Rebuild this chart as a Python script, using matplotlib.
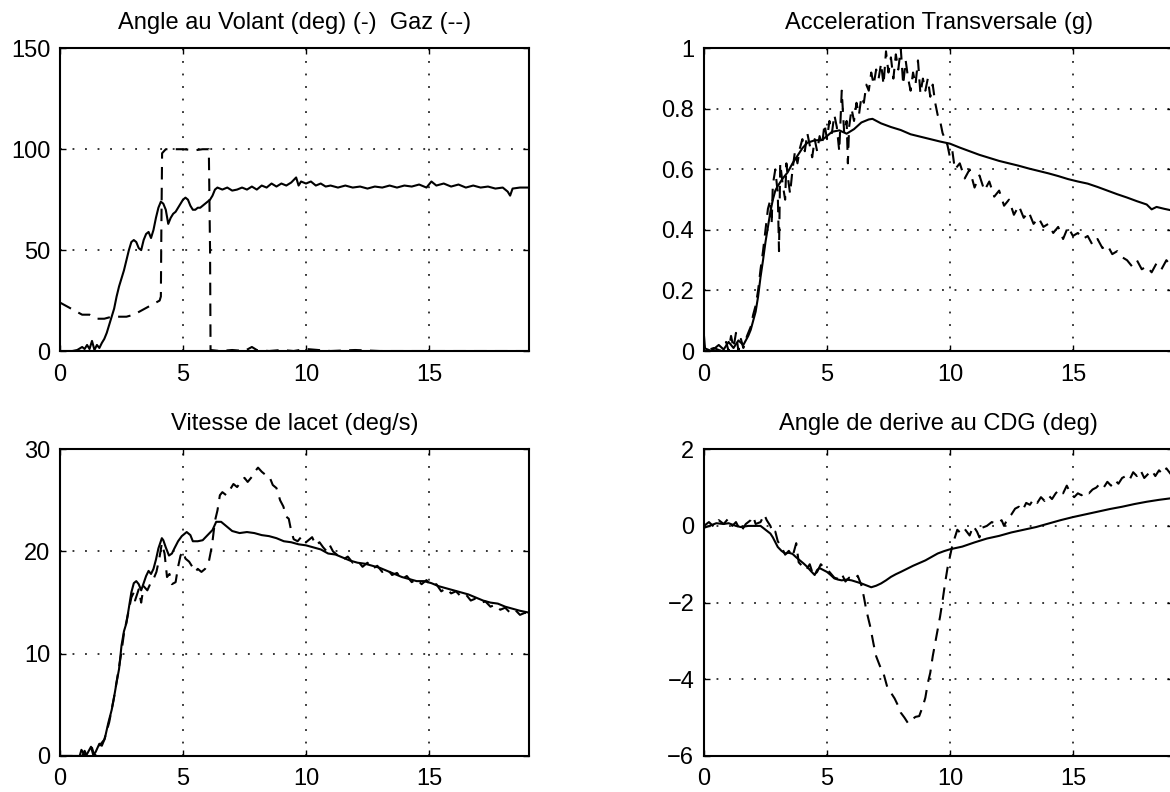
import matplotlib
matplotlib.use('Agg')
import matplotlib.pyplot as plt
import numpy as np

plt.rcParams['font.family'] = ['Liberation Sans', 'DejaVu Sans']

# --- Angle au volant (solid) / Gaz (dashed)
t_vol = [0, 0.5, 0.7, 0.9, 1.0, 1.1, 1.2, 1.3, 1.4, 1.5, 1.6, 1.7, 1.8, 1.9, 2.0, 2.1, 2.2, 2.3, 2.4, 2.5,
         2.6, 2.7, 2.8, 2.9, 3.0, 3.1, 3.2, 3.3, 3.4, 3.5, 3.6, 3.7, 3.8, 3.9, 4.0, 4.1, 4.2, 4.3, 4.4, 4.5,
         4.6, 4.7, 4.8, 4.9, 5.0, 5.1, 5.2, 5.3, 5.4, 5.5, 5.6, 5.7, 5.8, 5.9, 6.0, 6.1, 6.2, 6.3, 6.4, 6.6,
         6.8, 7.0, 7.2, 7.4, 7.6, 7.8, 8.0, 8.2, 8.4, 8.6, 8.8, 9.0, 9.2, 9.4, 9.6, 9.7, 9.8, 10.0, 10.2, 10.4,
         10.6, 10.8, 11.0, 11.3, 11.6, 11.9, 12.2, 12.5, 12.8, 13.1, 13.4, 13.7, 14.0, 14.3, 14.6, 14.9, 15.1,
         15.3, 15.6, 15.9, 16.2, 16.5, 16.8, 17.1, 17.4, 17.7, 18.0, 18.2, 18.3, 18.4, 18.7, 19.1]
volant = [0, 0, 0.5, 2, 1, 3, 1, 5, 0.5, 3, 1.5, 4, 6, 9, 13, 17, 21, 27, 32, 36,
          40, 45, 50, 54, 55, 54, 51, 50, 55, 58, 59, 56, 60, 66, 71, 74, 73, 70, 63, 66,
          68, 69, 71, 73, 75, 76, 75, 72, 70, 70, 71, 71, 72, 73, 74, 75, 77, 80, 81, 80,
          81, 79.5, 80, 81, 80, 81.5, 80, 82, 81, 83, 81.5, 83, 82, 83.5, 86, 82, 84, 83, 84, 82,
          83, 81.5, 82, 81, 82, 81, 81.5, 80.5, 81.5, 81, 82, 81, 82, 81.5, 82.5, 81, 84,
          82, 83, 81.5, 82.5, 81, 82, 81, 81.5, 80.5, 81, 79, 77, 80.5, 81, 81]
t_gaz = [0, 0.3, 0.6, 0.9, 1.2, 1.5, 1.8, 2.1, 2.4, 2.7, 3.0, 3.3, 3.6, 3.9, 4.05, 4.1, 4.12, 4.15, 4.3,
         4.6, 5.0, 5.5, 5.8, 6.05, 6.1, 6.12, 6.5, 7.0, 7.5, 7.8, 8.0, 8.5, 9.0, 9.5, 10, 11, 12, 13,
         14, 15, 16, 17, 18, 19.1]
gaz = [24, 22, 20, 18, 18, 16, 16, 17, 17, 17, 18, 20, 22, 24, 25, 27, 60, 98, 100,
       100, 100, 99.5, 100, 100, 50, 0.5, 0, 0.5, 0, 2, 0.5, 0, 0.5, 0, 1, 0, 0.5, 0,
       0, 0, 0, 0, 0, 0]

# --- Acceleration transversale
t_acc = [0, 0.3, 0.6, 0.8, 1.0, 1.2, 1.4, 1.6, 1.8, 1.9, 2.0, 2.1, 2.2, 2.3, 2.4, 2.5, 2.6, 2.7, 2.8, 2.9,
         3.0, 3.2, 3.4, 3.6, 3.8, 4.0, 4.2, 4.5, 4.8, 5.0, 5.2, 5.5, 5.8, 6.1, 6.4, 6.7, 6.85, 7.2, 7.6, 8.0,
         8.4, 8.8, 9.2, 9.6, 10.0, 10.4, 10.8, 11.2, 11.6, 12.0, 12.4, 12.8, 13.2, 13.6, 14.0, 14.4, 14.8,
         15.2, 15.6, 16.0, 16.4, 16.8, 17.2, 17.6, 18.0, 18.2, 18.4, 18.7, 19.1]
acc_model = [0.01, 0, 0.02, 0.005, 0.03, 0.01, 0.035, 0.02, 0.05, 0.07, 0.1, 0.13, 0.18, 0.245, 0.3, 0.36,
             0.41, 0.46, 0.5, 0.53, 0.545, 0.57, 0.59, 0.62, 0.645, 0.67, 0.688, 0.696, 0.697, 0.71, 0.724,
             0.729, 0.718, 0.733, 0.755, 0.765, 0.767, 0.752, 0.74, 0.73, 0.716, 0.708, 0.7, 0.692, 0.685,
             0.672, 0.66, 0.648, 0.638, 0.628, 0.62, 0.612, 0.603, 0.595, 0.587, 0.578, 0.568, 0.56, 0.553,
             0.542, 0.53, 0.518, 0.507, 0.495, 0.484, 0.468, 0.476, 0.47, 0.463]
t_acc_m = [0, 0.05, 0.4, 0.7, 0.9, 1.0, 1.1, 1.2, 1.3, 1.4, 1.5, 1.6, 1.75, 1.9, 2.0, 2.1, 2.2, 2.3, 2.4,
           2.5, 2.6, 2.7, 2.75, 2.8, 2.9, 3.0, 3.05, 3.1, 3.2, 3.3, 3.35, 3.4, 3.5, 3.6, 3.7, 3.8, 3.9, 4.0,
           4.1, 4.2, 4.3, 4.4, 4.5, 4.6, 4.7, 4.8, 4.9, 5.0, 5.1, 5.2, 5.3, 5.4, 5.5, 5.6, 5.7, 5.8, 5.85,
           5.9, 6.0, 6.1, 6.2, 6.3, 6.4, 6.5, 6.6, 6.7, 6.8, 6.9, 7.0, 7.1, 7.2, 7.3, 7.4, 7.5, 7.6, 7.7,
           7.8, 7.9, 8.0, 8.1, 8.2, 8.3, 8.4, 8.5, 8.6, 8.7, 8.8, 8.9, 9.0, 9.1, 9.2, 9.3, 9.4, 9.5, 9.6,
           9.7, 9.8, 9.9, 10.0, 10.1, 10.2, 10.4, 10.6, 10.8, 11.0, 11.2, 11.4, 11.6, 11.8, 12.0, 12.2,
           12.4, 12.6, 12.8, 13.0, 13.2, 13.4, 13.6, 13.8, 14.0, 14.2, 14.4, 14.6, 14.8, 15.0, 15.2, 15.4,
           15.6, 15.8, 16.0, 16.2, 16.4, 16.6, 16.8, 17.0, 17.2, 17.4, 17.6, 17.8, 18.0, 18.2, 18.4, 18.6,
           18.8, 19.1]
acc_mes = [0.05, 0.0, 0.01, 0.0, 0.03, 0.0, 0.05, 0.01, 0.06, 0.0, 0.04, 0.01, 0.05, 0.08, 0.12, 0.15, 0.2,
           0.27, 0.33, 0.4, 0.47, 0.5, 0.42, 0.55, 0.6, 0.52, 0.33, 0.62, 0.55, 0.5, 0.62, 0.58, 0.52, 0.6,
           0.66, 0.62, 0.67, 0.7, 0.66, 0.72, 0.68, 0.64, 0.7, 0.66, 0.71, 0.68, 0.75, 0.7, 0.76, 0.72, 0.78,
           0.74, 0.66, 0.86, 0.72, 0.76, 0.62, 0.74, 0.8, 0.76, 0.82, 0.78, 0.84, 0.82, 0.88, 0.86, 0.92,
           0.88, 0.93, 0.9, 0.95, 0.88, 0.99, 0.92, 0.97, 0.9, 0.98, 0.93, 1.0, 0.88, 0.96, 0.9, 0.86, 0.92,
           0.88, 0.96, 0.85, 0.9, 0.86, 0.9, 0.84, 0.88, 0.82, 0.78, 0.76, 0.72, 0.7, 0.68, 0.64, 0.66, 0.6,
           0.62, 0.57, 0.6, 0.54, 0.58, 0.53, 0.56, 0.51, 0.53, 0.48, 0.5, 0.45, 0.48, 0.44, 0.46, 0.42,
           0.44, 0.41, 0.42, 0.39, 0.41, 0.37, 0.41, 0.38, 0.39, 0.37, 0.38, 0.35, 0.37, 0.34, 0.35, 0.32,
           0.33, 0.31, 0.3, 0.28, 0.3, 0.27, 0.28, 0.26, 0.29, 0.27, 0.3, 0.27]

# --- Vitesse de lacet
t_lac = [0, 0.8, 0.87, 1.0, 1.1, 1.26, 1.35, 1.45, 1.6, 1.7, 1.82, 1.96, 2.1, 2.18, 2.3, 2.4, 2.5, 2.6, 2.7,
         2.8, 2.9, 3.0, 3.1, 3.2, 3.3, 3.4, 3.5, 3.6, 3.7, 3.8, 3.9, 4.0, 4.14, 4.2, 4.3, 4.43, 4.55, 4.65,
         4.8, 4.95, 5.15, 5.3, 5.4, 5.6, 5.8, 6.0, 6.2, 6.35, 6.55, 6.8, 7.0, 7.3, 7.6, 7.9, 8.2, 8.5, 8.8,
         9.1, 9.4, 9.7, 10.0, 10.3, 10.6, 10.9, 11.2, 11.5, 11.8, 12.1, 12.4, 12.7, 13.0, 13.3, 13.6, 13.9,
         14.2, 14.5, 14.8, 15.1, 15.4, 15.7, 16.0, 16.3, 16.6, 16.9, 17.2, 17.5, 17.8, 18.1, 18.4, 18.7, 19.1]
lacet_model = [0, 0, 0.6, 0.1, 0.2, 0.9, 0.1, 0.4, 1.2, 1.0, 1.7, 3.2, 4.5, 5.5, 7.2, 8.5, 10.8, 12.2, 13,
               14.5, 16, 16.9, 17.1, 16.8, 16.2, 16.9, 17.6, 18.1, 17.8, 18.3, 19.2, 20.3, 21.3, 21.1, 20.4,
               19.6, 19.8, 20.3, 21, 21.5, 21.9, 21.6, 21.0, 21.0, 21.1, 21.6, 22.1, 22.9, 22.9, 22.4, 22.0,
               21.8, 21.9, 21.8, 21.6, 21.5, 21.3, 21.0, 20.9, 20.7, 20.6, 20.4, 20.2, 19.8, 19.7, 19.4, 19.1,
               18.9, 18.8, 18.6, 18.4, 18.1, 17.8, 17.5, 17.3, 17.1, 17.1, 16.9, 16.6, 16.4, 16.2, 16.0, 15.8,
               15.5, 15.2, 15.0, 14.9, 14.6, 14.4, 14.2, 14.0]
t_lac_m = [0, 0.9, 1.0, 1.1, 1.3, 1.4, 1.6, 1.8, 2.0, 2.2, 2.4, 2.5, 2.6, 2.8, 2.9, 3.0, 3.05, 3.2, 3.3,
           3.4, 3.55, 3.7, 3.8, 3.92, 4.05, 4.14, 4.25, 4.35, 4.45, 4.55, 4.7, 4.8, 4.9, 5.0, 5.1, 5.25,
           5.38, 5.5, 5.6, 5.75, 5.9, 6.05, 6.18, 6.3, 6.4, 6.5, 6.6, 6.76, 6.9, 7.05, 7.2, 7.35, 7.5, 7.63,
           7.8, 7.92, 8.05, 8.2, 8.35, 8.5, 8.65, 8.8, 8.95, 9.08, 9.2, 9.3, 9.4, 9.5, 9.66, 9.8, 9.95, 10.1,
           10.25, 10.4, 10.55, 10.7, 10.85, 10.97, 11.1, 11.3, 11.5, 11.7, 11.9, 12.1, 12.3, 12.5, 12.7,
           12.9, 13.1, 13.3, 13.5, 13.7, 13.9, 14.1, 14.3, 14.5, 14.7, 14.9, 15.1, 15.3, 15.5, 15.7, 15.9,
           16.1, 16.3, 16.5, 16.7, 16.9, 17.1, 17.3, 17.5, 17.7, 17.9, 18.1, 18.3, 18.5, 18.7, 18.9, 19.1]
lacet_mes = [0, 0, 0.5, 0, 0.8, 0, 1.0, 1.6, 3.3, 5.8, 8.7, 10.2, 12.0, 14.3, 15.5, 16.0, 15.2, 16.3, 15.0,
             16.6, 16.2, 17.0, 17.3, 18.0, 19.5, 20.8, 19.8, 17.5, 17.8, 16.8, 17.0, 18.5, 19.6, 20.0, 19.3,
             19.0, 18.5, 18.0, 18.3, 18.0, 18.3, 19.0, 20.6, 23.0, 24.0, 25.5, 25.8, 25.5, 26.0, 26.6, 26.3,
             26.8, 27.2, 26.8, 27.3, 27.8, 28.2, 27.8, 27.5, 27.4, 26.5, 26.2, 25.0, 24.4, 23.4, 23.2, 22.0,
             21.2, 21.0, 21.4, 20.8, 21.1, 21.4, 20.6, 20.9, 20.4, 20.0, 20.6, 20.0, 19.6, 19.2, 19.5, 18.9,
             19.1, 18.5, 18.9, 18.3, 18.6, 18.0, 18.3, 17.7, 17.9, 17.3, 17.6, 17.0, 17.3, 16.8, 17.2, 16.6,
             16.8, 16.1, 16.4, 15.9, 16.1, 15.6, 15.8, 15.2, 15.4, 15.0, 15.1, 14.6, 14.8, 14.3, 14.5, 14.0,
             14.3, 13.8, 14.0, 13.9]

# --- Angle de derive au CDG
t_der = [0, 0.3, 0.5, 0.8, 1.0, 1.3, 1.5, 1.8, 2.0, 2.3, 2.5, 2.7, 2.8, 3.0, 3.15, 3.3, 3.45, 3.6, 3.75,
         3.9, 4.05, 4.2, 4.35, 4.5, 4.6, 4.7, 4.85, 5.0, 5.15, 5.3, 5.45, 5.6, 5.8, 6.0, 6.2, 6.4, 6.6,
         6.8, 7.0, 7.2, 7.4, 7.6, 7.8, 8.0, 8.25, 8.5, 8.75, 9.0, 9.25, 9.5, 9.75, 10.0, 10.5, 11.0, 11.5,
         12.0, 12.5, 13.0, 13.5, 14.0, 14.5, 15.0, 15.5, 16.0, 16.5, 17.0, 17.5, 18.0, 18.5, 19.1]
derive_model = [-0.05, 0.02, 0.07, 0.05, 0.07, 0.0, -0.03, 0.0, 0.0, 0.0, -0.1, -0.2, -0.3, -0.55, -0.65,
                -0.72, -0.7, -0.73, -0.82, -0.9, -0.98, -1.07, -1.18, -1.28, -1.15, -1.1, -1.15, -1.2,
                -1.28, -1.37, -1.4, -1.42, -1.4, -1.42, -1.46, -1.5, -1.55, -1.6, -1.56, -1.5, -1.42,
                -1.33, -1.26, -1.2, -1.12, -1.04, -0.97, -0.9, -0.81, -0.72, -0.66, -0.61, -0.54, -0.43,
                -0.33, -0.26, -0.17, -0.1, -0.03, 0.06, 0.15, 0.23, 0.3, 0.37, 0.44, 0.5, 0.57, 0.63,
                0.68, 0.73]
t_der_m = [0, 0.2, 0.4, 0.6, 0.8, 1.0, 1.15, 1.3, 1.5, 1.7, 1.9, 2.0, 2.1, 2.3, 2.45, 2.55, 2.7, 2.8, 2.9,
           3.0, 3.15, 3.3, 3.45, 3.6, 3.75, 3.85, 4.0, 4.15, 4.3, 4.45, 4.6, 4.75, 4.9, 5.1, 5.3, 5.45,
           5.6, 5.75, 5.9, 6.1, 6.25, 6.4, 6.5, 6.6, 6.75, 6.9, 7.0, 7.15, 7.3, 7.45, 7.6, 7.75, 7.9, 8.0,
           8.15, 8.3, 8.45, 8.6, 8.75, 8.9, 9.0, 9.1, 9.2, 9.3, 9.4, 9.5, 9.6, 9.7, 9.8, 9.9, 10.0, 10.1,
           10.2, 10.3, 10.45, 10.6, 10.8, 10.95, 11.1, 11.2, 11.3, 11.5, 11.7, 11.9, 12.1, 12.2, 12.35,
           12.5, 12.65, 12.8, 12.95, 13.1, 13.25, 13.4, 13.55, 13.7, 13.85, 14.0, 14.15, 14.3, 14.45, 14.6,
           14.75, 14.9, 15.05, 15.2, 15.35, 15.5, 15.65, 15.8, 15.95, 16.1, 16.25, 16.4, 16.55, 16.7,
           16.85, 17.0, 17.15, 17.3, 17.45, 17.6, 17.75, 17.9, 18.05, 18.2, 18.35, 18.5, 18.65, 18.8, 19.1]
derive_mes = [0.0, 0.1, -0.02, 0.15, 0.05, 0.2, 0.0, 0.1, -0.15, 0.05, 0.15, 0.25, 0.05, 0.1, 0.3, 0.15,
              0.0, -0.2, -0.15, -0.4, -0.55, -0.75, -0.65, -0.8, -0.45, -0.95, -1.05, -1.15, -1.0, -1.3,
              -1.2, -1.0, -1.1, -1.2, -1.35, -1.38, -1.25, -1.45, -1.35, -1.4, -1.3, -1.55, -1.85, -2.2,
              -2.6, -3.1, -3.4, -3.65, -3.85, -4.2, -4.35, -4.5, -4.7, -4.87, -5.0, -5.15, -5.05, -4.98,
              -4.96, -4.7, -4.48, -4.1, -3.83, -3.4, -3.05, -2.7, -2.36, -1.95, -1.5, -1.1, -0.8, -0.5,
              -0.3, -0.1, -0.2, -0.08, -0.25, 0.0, -0.15, -0.3, -0.05, 0.0, 0.1, 0.05, 0.15, 0.0, 0.2,
              0.3, 0.45, 0.5, 0.4, 0.6, 0.55, 0.7, 0.6, 0.75, 0.65, 0.8, 0.7, 0.85, 0.95, 0.85, 1.05,
              0.85, 0.75, 0.85, 0.8, 0.9, 0.85, 0.95, 1.0, 1.1, 1.0, 1.15, 1.05, 1.2, 1.1, 1.25, 1.3,
              1.2, 1.4, 1.3, 1.45, 1.25, 1.35, 1.45, 1.3, 1.45, 1.35, 1.5, 1.25]

fig = plt.figure(figsize=(11.7, 7.92), dpi=100)
ax1 = fig.add_axes([0.0513, 0.5568, 0.4011, 0.3822])
ax2 = fig.add_axes([0.6017, 0.5568, 0.4011, 0.3822])
ax3 = fig.add_axes([0.0513, 0.0455, 0.4011, 0.3873])
ax4 = fig.add_axes([0.6017, 0.0455, 0.4011, 0.3873])

dash = (0, (6, 4))
lw = 1.5

ax1.plot(t_vol, volant, color='k', lw=lw)
ax1.plot(t_gaz, gaz, color='k', lw=lw, linestyle=dash)
ax1.set_ylim(0, 150)
ax1.set_yticks([0, 50, 100, 150])
ax1.set_title('Angle au Volant (deg) (-)  Gaz (--)')

ax2.plot(t_acc, acc_model, color='k', lw=lw)
ax2.plot(t_acc_m, acc_mes, color='k', lw=lw, linestyle=dash)
ax2.set_ylim(0, 1)
ax2.set_yticks([0, 0.2, 0.4, 0.6, 0.8, 1])
ax2.set_yticklabels(['0', '0.2', '0.4', '0.6', '0.8', '1'])
ax2.set_title('Acceleration Transversale (g)')

ax3.plot(t_lac, lacet_model, color='k', lw=lw)
ax3.plot(t_lac_m, lacet_mes, color='k', lw=lw, linestyle=dash)
ax3.set_ylim(0, 30)
ax3.set_yticks([0, 10, 20, 30])
ax3.set_title('Vitesse de lacet (deg/s)')

ax4.plot(t_der, derive_model, color='k', lw=lw)
ax4.plot(t_der_m, derive_mes, color='k', lw=lw, linestyle=dash)
ax4.set_ylim(-6, 2)
ax4.set_yticks([-6, -4, -2, 0, 2])
ax4.set_yticklabels(['\u22126', '\u22124', '\u22122', '0', '2'])
ax4.set_title('Angle de derive au CDG (deg)')

for ax in [ax1, ax2, ax3, ax4]:
    ax.set_xlim(0, 19.08)
    ax.set_xticks([0, 5, 10, 15])
    ax.grid(True, color='k', linestyle=(0, (1.2, 7)), lw=1.1)
    ax.tick_params(direction='in', length=4, width=1, top=True, right=True,
                   labelsize=17, color='k')
    ax.tick_params(axis='x', pad=9)
    ax.tick_params(axis='y', pad=7)
    ax.set_title(ax.get_title(), fontsize=17, pad=14)
    for s in ax.spines.values():
        s.set_linewidth(1.5)

fig.savefig('out.png', dpi=100)
